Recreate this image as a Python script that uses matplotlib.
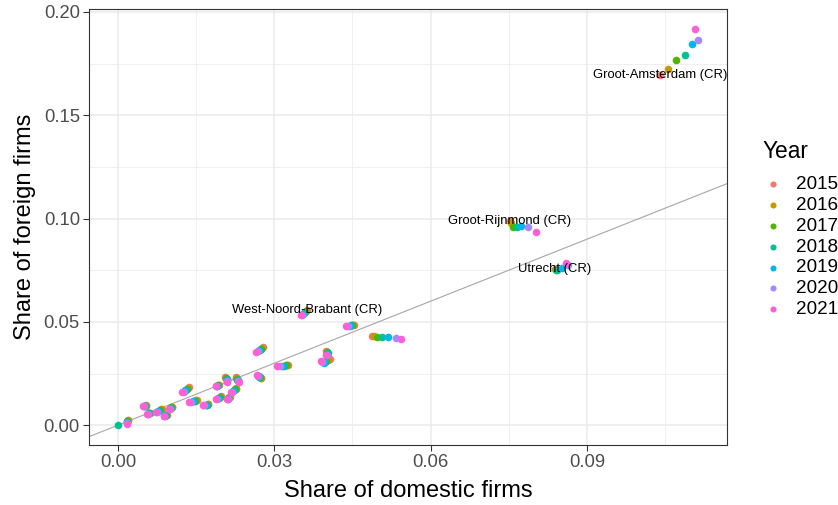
import numpy as np
import matplotlib
matplotlib.use("Agg")
import matplotlib.pyplot as plt

plt.rcParams["font.family"] = ["Liberation Sans", "DejaVu Sans"]

years = [2015, 2016, 2017, 2018, 2019, 2020, 2021]
colors = ["#F8766D", "#C49A00", "#53B400", "#00C094", "#00B6EB", "#A58AFF", "#FB61D7"]

# labelled regions (label on the 2015 point), '' for unlabelled ones
region_labels = [""] * 19 + ["West-Noord-Brabant (CR)", "", "", "", "",
                             "Groot-Rijnmond (CR)", "Utrecht (CR)", "Groot-Amsterdam (CR)"]

nan = np.nan
# share of domestic firms per region, one list per year
dom_2015 = [nan, 0.0019, 0.0054, 0.0062, 0.0084, 0.0094, 0.0104, 0.0137, 0.0152, 0.0173, 0.0193, 0.0206, 0.0226, 0.0198, 0.0214, 0.0227, 0.0279, 0.0275, 0.0327, 0.0363, 0.0406, 0.0400, 0.0452, 0.0487, 0.0752, 0.0838, 0.1040]
dom_2016 = [nan, 0.0019, 0.0053, 0.0061, 0.0082, 0.0093, 0.0103, 0.0135, 0.0150, 0.0172, 0.0192, 0.0207, 0.0227, 0.0196, 0.0213, 0.0226, 0.0277, 0.0274, 0.0325, 0.0361, 0.0403, 0.0401, 0.0451, 0.0491, 0.0754, 0.0840, 0.1056]
dom_2017 = [nan, 0.0018, 0.0052, 0.0060, 0.0080, 0.0092, 0.0102, 0.0133, 0.0148, 0.0171, 0.0191, 0.0208, 0.0228, 0.0195, 0.0212, 0.0224, 0.0275, 0.0273, 0.0322, 0.0359, 0.0400, 0.0402, 0.0450, 0.0497, 0.0758, 0.0840, 0.1071]
dom_2018 = [0.0, 0.0018, 0.0051, 0.0059, 0.0078, 0.0091, 0.0101, 0.0131, 0.0146, 0.0170, 0.0190, 0.0209, 0.0229, 0.0193, 0.0212, 0.0222, 0.0273, 0.0271, 0.0318, 0.0357, 0.0398, 0.0403, 0.0448, 0.0506, 0.0765, 0.0842, 0.1088]
dom_2019 = [nan, 0.0018, 0.0050, 0.0058, 0.0076, 0.0090, 0.0100, 0.0128, 0.0143, 0.0168, 0.0190, 0.0209, 0.0230, 0.0191, 0.0211, 0.0220, 0.0270, 0.0270, 0.0314, 0.0355, 0.0395, 0.0402, 0.0446, 0.0519, 0.0773, 0.0852, 0.1102]
dom_2020 = [nan, 0.0017, 0.0049, 0.0057, 0.0074, 0.0089, 0.0099, 0.0126, 0.0140, 0.0166, 0.0189, 0.0210, 0.0231, 0.0190, 0.0211, 0.0219, 0.0268, 0.0268, 0.0310, 0.0354, 0.0392, 0.0401, 0.0442, 0.0533, 0.0787, 0.0863, 0.1113]
dom_2021 = [nan, 0.0017, 0.0048, 0.0056, 0.0072, 0.0088, 0.0098, 0.0123, 0.0137, 0.0164, 0.0188, 0.0210, 0.0233, 0.0188, 0.0210, 0.0217, 0.0265, 0.0267, 0.0306, 0.0352, 0.0390, 0.0400, 0.0438, 0.0544, 0.0802, 0.0860, 0.1108]

# share of foreign firms per region, one list per year
for_2015 = [nan, 0.0027, 0.0096, 0.0060, 0.0078, 0.0050, 0.0089, 0.0184, 0.0121, 0.0101, 0.0196, 0.0232, 0.0232, 0.0140, 0.0135, 0.0179, 0.0377, 0.0227, 0.0290, 0.0556, 0.0319, 0.0357, 0.0483, 0.0430, 0.0986, 0.0754, 0.1696]
for_2016 = [nan, 0.0024, 0.0095, 0.0059, 0.0076, 0.0049, 0.0088, 0.0181, 0.0120, 0.0101, 0.0194, 0.0229, 0.0229, 0.0138, 0.0134, 0.0176, 0.0374, 0.0229, 0.0290, 0.0552, 0.0315, 0.0355, 0.0484, 0.0430, 0.0976, 0.0754, 0.1725]
for_2017 = [nan, 0.0021, 0.0094, 0.0058, 0.0074, 0.0048, 0.0087, 0.0177, 0.0119, 0.0100, 0.0193, 0.0226, 0.0225, 0.0136, 0.0132, 0.0173, 0.0370, 0.0231, 0.0289, 0.0548, 0.0312, 0.0352, 0.0485, 0.0429, 0.0957, 0.0749, 0.1768]
for_2018 = [0.0, 0.0017, 0.0094, 0.0057, 0.0071, 0.0047, 0.0085, 0.0172, 0.0117, 0.0100, 0.0191, 0.0222, 0.0221, 0.0133, 0.0130, 0.0169, 0.0366, 0.0234, 0.0288, 0.0544, 0.0306, 0.0348, 0.0484, 0.0427, 0.0957, 0.0749, 0.1792]
for_2019 = [nan, 0.0014, 0.0093, 0.0056, 0.0068, 0.0046, 0.0083, 0.0168, 0.0115, 0.0099, 0.0190, 0.0218, 0.0217, 0.0131, 0.0129, 0.0166, 0.0362, 0.0236, 0.0287, 0.0540, 0.0303, 0.0344, 0.0482, 0.0425, 0.0966, 0.0763, 0.1845]
for_2020 = [nan, 0.0011, 0.0093, 0.0055, 0.0066, 0.0045, 0.0080, 0.0163, 0.0113, 0.0098, 0.0189, 0.0214, 0.0212, 0.0129, 0.0128, 0.0162, 0.0358, 0.0239, 0.0286, 0.0535, 0.0306, 0.0341, 0.0480, 0.0423, 0.0961, 0.0773, 0.1865]
for_2021 = [nan, 0.0007, 0.0092, 0.0053, 0.0063, 0.0043, 0.0077, 0.0159, 0.0111, 0.0097, 0.0188, 0.0210, 0.0208, 0.0126, 0.0126, 0.0159, 0.0353, 0.0242, 0.0285, 0.0531, 0.0309, 0.0338, 0.0478, 0.0415, 0.0937, 0.0783, 0.1918]

dom = [dom_2015, dom_2016, dom_2017, dom_2018, dom_2019, dom_2020, dom_2021]
fgn = [for_2015, for_2016, for_2017, for_2018, for_2019, for_2020, for_2021]

fig = plt.figure(figsize=(8.38, 5.05), dpi=100)
ax = fig.add_axes([0.1062, 0.1188, 0.7613, 0.8634])

ax.axline((0, 0), slope=1, color="#A6A6A6", lw=0.8, zorder=2)

for yr, col, xs, ys in zip(years, colors, dom, fgn):
    ax.scatter(xs, ys, s=30, color=col, label=str(yr), linewidths=0, zorder=3)

for lab, x, y in zip(region_labels, dom_2015, for_2015):
    if lab:
        ax.text(x, y, lab, ha="center", va="center", fontsize=9.4, color="black", zorder=4)

allx = np.concatenate([np.array(v, dtype=float) for v in dom])
ally = np.concatenate([np.array(v, dtype=float) for v in fgn])
xr = np.nanmax(allx) - np.nanmin(allx)
yr_ = np.nanmax(ally) - np.nanmin(ally)
ax.set_xlim(np.nanmin(allx) - 0.05 * xr, np.nanmax(allx) + 0.05 * xr)
ax.set_ylim(np.nanmin(ally) - 0.05 * yr_, np.nanmax(ally) + 0.05 * yr_)

ax.set_xticks([0.0, 0.03, 0.06, 0.09])
ax.set_xticks([0.015, 0.045, 0.075, 0.105], minor=True)
ax.set_yticks([0.0, 0.05, 0.10, 0.15, 0.20])
ax.set_yticks([0.025, 0.075, 0.125, 0.175], minor=True)
ax.set_xticklabels(["0.00", "0.03", "0.06", "0.09"])
ax.set_yticklabels(["0.00", "0.05", "0.10", "0.15", "0.20"])
ax.grid(which="major", color="#EBEBEB", lw=1.1, zorder=0)
ax.grid(which="minor", color="#EBEBEB", lw=0.55, zorder=0)
ax.set_axisbelow(True)
for sp in ax.spines.values():
    sp.set_color("#333333")
    sp.set_linewidth(0.8)
ax.tick_params(which="major", length=4, width=0.8, color="#333333",
               labelsize=13.3, labelcolor="#4D4D4D", pad=2.5)
ax.tick_params(which="minor", length=0)

ax.set_xlabel("Share of domestic firms", fontsize=17, labelpad=6.5)
ax.set_ylabel("Share of foreign firms", fontsize=17, labelpad=5.5)

# legend: entries via ax.legend, title as separate text to get ggplot spacing
leg = ax.legend(loc="center left", bbox_to_anchor=(1.043, 0.454),
                frameon=False, fontsize=13.6, markerscale=0.8,
                handlelength=1.2, handletextpad=0.6, labelspacing=0.19, borderaxespad=0)
fig.text(763 / 838, 1 - 151 / 505, "Year", fontsize=16.4, ha="left", va="center")

fig.savefig("out.png", dpi=100)
